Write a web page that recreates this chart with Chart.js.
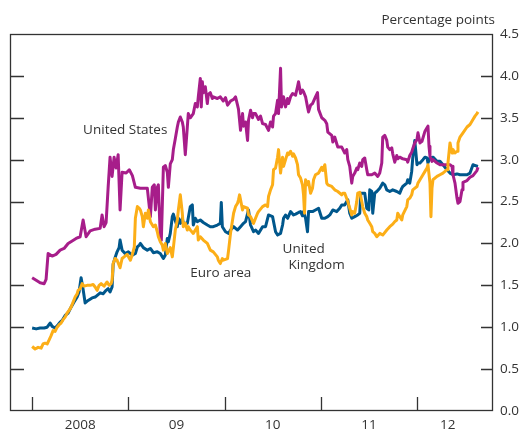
<!DOCTYPE html>
<html>
<head>
<meta charset="utf-8">
<script src="https://cdn.jsdelivr.net/npm/chart.js@4.4.1/dist/chart.umd.min.js"></script>
<style>
  body { margin: 0; background: #fff; }
</style>
</head>
<body>
<canvas id="spreads" width="529" height="430"></canvas>
<script>
// series: [decimal year, percentage points]
const unitedStates = [
  [2008.000, 1.59], [2008.042, 1.56], [2008.083, 1.53], [2008.125, 1.52], [2008.145, 1.57], [2008.166, 1.88],
  [2008.208, 1.85], [2008.249, 1.87], [2008.291, 1.92], [2008.332, 1.94], [2008.374, 2.00], [2008.416, 2.03],
  [2008.457, 2.06], [2008.499, 2.08], [2008.530, 2.28], [2008.561, 2.08], [2008.603, 2.15], [2008.655, 2.17],
  [2008.707, 2.18], [2008.727, 2.34], [2008.748, 2.20], [2008.769, 2.25], [2008.790, 2.67], [2008.810, 3.03],
  [2008.831, 2.80], [2008.852, 3.03], [2008.873, 2.90], [2008.894, 3.06], [2008.914, 2.40], [2008.935, 2.85],
  [2008.977, 2.84],
  [2009.010, 2.88], [2009.042, 2.81], [2009.073, 2.67], [2009.125, 2.66], [2009.197, 2.66], [2009.229, 2.32],
  [2009.249, 2.67], [2009.270, 2.70], [2009.281, 2.40], [2009.301, 2.67], [2009.312, 2.70], [2009.332, 2.08],
  [2009.343, 2.04], [2009.364, 2.91], [2009.384, 2.93], [2009.405, 2.85], [2009.416, 2.67], [2009.436, 2.95],
  [2009.457, 3.00], [2009.468, 3.12], [2009.488, 3.25], [2009.509, 3.39], [2009.520, 3.45], [2009.540, 3.51],
  [2009.561, 3.45], [2009.571, 3.39], [2009.592, 3.06], [2009.613, 3.39], [2009.623, 3.55], [2009.644, 3.50],
  [2009.675, 3.55], [2009.696, 3.67], [2009.717, 3.63], [2009.727, 3.75], [2009.748, 3.97], [2009.758, 3.63],
  [2009.769, 3.93], [2009.779, 3.80], [2009.800, 3.87], [2009.821, 3.67], [2009.831, 3.78], [2009.852, 3.80],
  [2009.873, 3.73], [2009.883, 3.75], [2009.925, 3.73], [2009.956, 3.75], [2009.987, 3.70],
  [2010.010, 3.74], [2010.031, 3.65], [2010.062, 3.70], [2010.094, 3.72], [2010.114, 3.75], [2010.135, 3.65],
  [2010.145, 3.60], [2010.166, 3.35], [2010.187, 3.55], [2010.197, 3.40], [2010.218, 3.45], [2010.239, 3.23],
  [2010.249, 3.47], [2010.270, 3.59], [2010.291, 3.50], [2010.301, 3.55], [2010.322, 3.55], [2010.353, 3.48],
  [2010.374, 3.52], [2010.395, 3.43], [2010.426, 3.42], [2010.457, 3.35], [2010.478, 3.45], [2010.499, 3.39],
  [2010.509, 3.52], [2010.530, 3.55], [2010.551, 3.71], [2010.561, 3.55], [2010.582, 4.09], [2010.592, 3.63],
  [2010.613, 3.75], [2010.634, 3.63], [2010.655, 3.73], [2010.665, 3.67], [2010.686, 3.75], [2010.707, 3.79],
  [2010.738, 3.77], [2010.758, 3.87], [2010.769, 3.93], [2010.790, 3.79], [2010.810, 3.83], [2010.821, 3.81],
  [2010.842, 3.75], [2010.862, 3.63], [2010.873, 3.57], [2010.894, 3.65], [2010.914, 3.67], [2010.945, 3.75],
  [2010.966, 3.80], [2010.977, 3.60],
  [2011.010, 3.50], [2011.042, 3.47], [2011.062, 3.43], [2011.073, 3.33], [2011.114, 3.29], [2011.125, 3.21],
  [2011.145, 3.27], [2011.166, 3.19], [2011.177, 3.15], [2011.218, 3.15], [2011.249, 3.08], [2011.270, 3.12],
  [2011.281, 3.00], [2011.301, 2.92], [2011.322, 2.72], [2011.332, 2.80], [2011.353, 2.84], [2011.374, 2.90],
  [2011.384, 2.88], [2011.405, 2.96], [2011.426, 2.92], [2011.436, 3.00], [2011.457, 3.02], [2011.478, 2.88],
  [2011.488, 2.82], [2011.530, 2.82], [2011.561, 2.84], [2011.592, 2.80], [2011.613, 2.84], [2011.634, 2.96],
  [2011.644, 3.27], [2011.665, 3.29], [2011.686, 3.23], [2011.696, 3.15], [2011.717, 3.12], [2011.738, 3.14],
  [2011.748, 3.07], [2011.769, 2.97], [2011.790, 3.05], [2011.800, 3.01], [2011.821, 3.03], [2011.852, 3.01],
  [2011.894, 3.00], [2011.904, 2.97], [2011.925, 3.05], [2011.945, 3.09], [2011.956, 3.13], [2011.977, 3.20],
  [2012.000, 3.24], [2012.010, 3.32], [2012.031, 3.20], [2012.052, 3.22], [2012.083, 3.34], [2012.104, 3.38],
  [2012.114, 3.40], [2012.125, 3.16], [2012.135, 3.04], [2012.156, 2.98], [2012.166, 3.00], [2012.208, 2.96],
  [2012.239, 2.94], [2012.312, 2.94], [2012.343, 2.94], [2012.364, 2.92], [2012.374, 2.82], [2012.395, 2.72],
  [2012.416, 2.54], [2012.426, 2.48], [2012.447, 2.50], [2012.468, 2.64], [2012.478, 2.73], [2012.520, 2.75],
  [2012.551, 2.79], [2012.582, 2.81], [2012.623, 2.87], [2012.634, 2.91]
];

const unitedKingdom = [
  [2008.000, 0.99], [2008.042, 0.98], [2008.083, 0.99], [2008.125, 0.99], [2008.156, 1.00], [2008.187, 1.05],
  [2008.208, 1.01], [2008.239, 0.99], [2008.270, 1.03], [2008.291, 1.06], [2008.312, 1.08], [2008.343, 1.14],
  [2008.374, 1.17], [2008.405, 1.24], [2008.436, 1.30], [2008.468, 1.36], [2008.488, 1.42], [2008.509, 1.59],
  [2008.530, 1.45], [2008.551, 1.29], [2008.582, 1.32], [2008.623, 1.35], [2008.655, 1.36], [2008.686, 1.39],
  [2008.707, 1.41], [2008.738, 1.40], [2008.769, 1.44], [2008.790, 1.46], [2008.810, 1.42], [2008.831, 1.48],
  [2008.842, 1.75], [2008.862, 1.83], [2008.883, 1.90], [2008.904, 1.95], [2008.914, 2.04], [2008.935, 1.92],
  [2008.966, 1.88],
  [2009.000, 1.90], [2009.042, 1.86], [2009.073, 1.88], [2009.094, 1.96], [2009.114, 1.98], [2009.125, 2.00],
  [2009.156, 1.95], [2009.197, 1.92], [2009.229, 1.94], [2009.260, 1.89], [2009.301, 1.90], [2009.332, 1.88],
  [2009.364, 1.82], [2009.384, 1.86], [2009.405, 2.06], [2009.416, 2.02], [2009.436, 2.12], [2009.457, 2.32],
  [2009.468, 2.35], [2009.488, 2.27], [2009.509, 2.20], [2009.520, 2.30], [2009.540, 2.24], [2009.561, 2.30],
  [2009.571, 2.24], [2009.613, 2.24], [2009.644, 2.44], [2009.665, 2.46], [2009.675, 2.22], [2009.696, 2.30],
  [2009.717, 2.26], [2009.748, 2.28], [2009.779, 2.25], [2009.821, 2.22], [2009.852, 2.20], [2009.883, 2.20],
  [2009.925, 2.22], [2009.956, 2.24], [2009.966, 2.49], [2009.977, 2.20],
  [2010.010, 2.14], [2010.042, 2.12], [2010.062, 2.16], [2010.094, 2.20], [2010.135, 2.16], [2010.166, 2.20],
  [2010.197, 2.24], [2010.218, 2.26], [2010.249, 2.40], [2010.270, 2.22], [2010.301, 2.14], [2010.322, 2.16],
  [2010.353, 2.12], [2010.395, 2.20], [2010.426, 2.20], [2010.457, 2.34], [2010.499, 2.32], [2010.530, 2.14],
  [2010.551, 2.10], [2010.582, 2.12], [2010.603, 2.22], [2010.613, 2.30], [2010.634, 2.34], [2010.655, 2.30],
  [2010.686, 2.38], [2010.717, 2.34], [2010.738, 2.35], [2010.769, 2.37], [2010.790, 2.38], [2010.810, 2.33],
  [2010.821, 2.38], [2010.842, 2.30], [2010.862, 2.14], [2010.873, 2.38], [2010.914, 2.38], [2010.945, 2.40],
  [2010.977, 2.42],
  [2011.010, 2.30], [2011.042, 2.30], [2011.073, 2.32], [2011.094, 2.34], [2011.125, 2.40], [2011.166, 2.38],
  [2011.197, 2.42], [2011.218, 2.46], [2011.249, 2.46], [2011.281, 2.52], [2011.301, 2.36], [2011.322, 2.30],
  [2011.353, 2.32], [2011.384, 2.34], [2011.405, 2.36], [2011.416, 2.60], [2011.457, 2.60], [2011.478, 2.42],
  [2011.499, 2.40], [2011.509, 2.64], [2011.530, 2.62], [2011.540, 2.36], [2011.561, 2.60], [2011.582, 2.62],
  [2011.613, 2.66], [2011.644, 2.72], [2011.665, 2.70], [2011.686, 2.64], [2011.717, 2.62], [2011.748, 2.64],
  [2011.790, 2.62], [2011.821, 2.60], [2011.842, 2.66], [2011.852, 2.68], [2011.894, 2.72], [2011.904, 2.76],
  [2011.925, 2.72], [2011.945, 2.86], [2011.956, 3.02], [2011.977, 3.23],
  [2012.000, 2.94], [2012.010, 2.96], [2012.031, 2.96], [2012.062, 3.00], [2012.083, 3.03], [2012.104, 3.02],
  [2012.114, 2.96], [2012.135, 3.02], [2012.166, 3.03], [2012.208, 2.98], [2012.239, 2.98], [2012.270, 2.94],
  [2012.312, 2.88], [2012.343, 2.84], [2012.374, 2.82], [2012.416, 2.83], [2012.447, 2.82], [2012.478, 2.82],
  [2012.520, 2.82], [2012.551, 2.84], [2012.582, 2.94], [2012.603, 2.93], [2012.634, 2.92]
];

const euroArea = [
  [2008.000, 0.77], [2008.031, 0.74], [2008.062, 0.76], [2008.094, 0.75], [2008.114, 0.80], [2008.135, 0.81],
  [2008.156, 0.80], [2008.177, 0.85], [2008.197, 0.90], [2008.218, 0.96], [2008.239, 0.95], [2008.260, 1.00],
  [2008.281, 1.03], [2008.301, 1.05], [2008.322, 1.09], [2008.343, 1.12], [2008.364, 1.17], [2008.384, 1.20],
  [2008.405, 1.24], [2008.426, 1.30], [2008.447, 1.36], [2008.468, 1.40], [2008.478, 1.44], [2008.499, 1.46],
  [2008.520, 1.52], [2008.540, 1.49], [2008.571, 1.50], [2008.603, 1.50], [2008.634, 1.51], [2008.655, 1.48],
  [2008.675, 1.44], [2008.696, 1.50], [2008.717, 1.52], [2008.748, 1.49], [2008.779, 1.54], [2008.800, 1.50],
  [2008.821, 1.52], [2008.831, 1.56], [2008.842, 1.76], [2008.862, 1.82], [2008.883, 1.80], [2008.914, 1.71],
  [2008.935, 1.82], [2008.956, 1.84], [2008.987, 1.87],
  [2009.021, 1.80], [2009.042, 1.87], [2009.062, 1.96], [2009.073, 2.30], [2009.094, 2.44], [2009.114, 2.42],
  [2009.125, 2.40], [2009.145, 2.32], [2009.156, 2.20], [2009.177, 2.36], [2009.197, 2.30], [2009.208, 2.40],
  [2009.229, 2.26], [2009.260, 2.20], [2009.281, 2.22], [2009.301, 2.14], [2009.312, 2.08], [2009.332, 2.02],
  [2009.353, 1.98], [2009.364, 1.92], [2009.384, 2.00], [2009.405, 1.88], [2009.436, 1.95], [2009.457, 1.84],
  [2009.468, 1.95], [2009.488, 2.16], [2009.509, 2.28], [2009.520, 2.40], [2009.540, 2.58], [2009.561, 2.36],
  [2009.571, 2.20], [2009.592, 2.24], [2009.613, 2.16], [2009.623, 2.20], [2009.644, 2.16], [2009.675, 2.12],
  [2009.717, 2.20], [2009.727, 2.04], [2009.748, 2.08], [2009.779, 2.04], [2009.821, 2.00], [2009.852, 1.92],
  [2009.883, 1.90], [2009.925, 1.84], [2009.935, 1.80], [2009.956, 1.76], [2009.977, 1.82], [2009.987, 1.80],
  [2010.031, 1.82], [2010.042, 1.92], [2010.062, 2.12], [2010.083, 2.28], [2010.094, 2.36], [2010.114, 2.44],
  [2010.135, 2.48], [2010.145, 2.52], [2010.156, 2.58], [2010.187, 2.40], [2010.197, 2.44], [2010.239, 2.42],
  [2010.249, 2.34], [2010.270, 2.32], [2010.301, 2.24], [2010.322, 2.30], [2010.343, 2.36], [2010.353, 2.38],
  [2010.395, 2.44], [2010.426, 2.46], [2010.447, 2.44], [2010.457, 2.56], [2010.478, 2.64], [2010.499, 2.70],
  [2010.509, 2.88], [2010.530, 2.90], [2010.551, 3.03], [2010.561, 3.12], [2010.582, 2.84], [2010.603, 3.03],
  [2010.613, 2.92], [2010.634, 3.00], [2010.655, 3.08], [2010.665, 3.06], [2010.686, 3.10], [2010.707, 3.04],
  [2010.717, 3.07], [2010.738, 3.02], [2010.758, 2.94], [2010.769, 2.82], [2010.790, 2.78], [2010.810, 2.70],
  [2010.821, 2.58], [2010.831, 2.36], [2010.842, 2.76], [2010.862, 2.70], [2010.873, 2.74], [2010.894, 2.60],
  [2010.914, 2.66], [2010.925, 2.76], [2010.945, 2.82], [2010.977, 2.84],
  [2011.010, 2.91], [2011.021, 2.87], [2011.042, 2.94], [2011.062, 2.72], [2011.073, 2.70], [2011.114, 2.68],
  [2011.145, 2.64], [2011.177, 2.62], [2011.218, 2.58], [2011.229, 2.60], [2011.249, 2.60], [2011.281, 2.50],
  [2011.301, 2.42], [2011.322, 2.34], [2011.332, 2.38], [2011.353, 2.36], [2011.374, 2.50], [2011.384, 2.60],
  [2011.405, 2.61], [2011.426, 2.50], [2011.436, 2.44], [2011.457, 2.36], [2011.478, 2.32], [2011.488, 2.28],
  [2011.509, 2.24], [2011.530, 2.20], [2011.540, 2.14], [2011.561, 2.12], [2011.582, 2.08], [2011.613, 2.12],
  [2011.644, 2.10], [2011.686, 2.16], [2011.717, 2.20], [2011.748, 2.23], [2011.769, 2.26], [2011.790, 2.28],
  [2011.800, 2.36], [2011.821, 2.32], [2011.842, 2.28], [2011.852, 2.34], [2011.894, 2.44], [2011.904, 2.52],
  [2011.925, 2.54], [2011.945, 2.58], [2011.956, 2.64],
  [2012.000, 2.68], [2012.010, 2.72], [2012.031, 2.76], [2012.062, 2.82], [2012.083, 2.86], [2012.104, 2.90],
  [2012.114, 2.94], [2012.135, 2.72], [2012.145, 2.32], [2012.156, 2.66], [2012.166, 2.76], [2012.208, 2.80],
  [2012.239, 2.82], [2012.270, 2.84], [2012.312, 2.88], [2012.322, 2.96], [2012.343, 3.20], [2012.364, 3.08],
  [2012.374, 3.12], [2012.395, 3.08], [2012.416, 3.10], [2012.426, 3.20], [2012.447, 3.27], [2012.478, 3.32],
  [2012.520, 3.39], [2012.551, 3.42], [2012.582, 3.48], [2012.603, 3.52], [2012.623, 3.55], [2012.634, 3.57]
];

const yearStarts = [2008, 2009, 2010, 2011, 2012];
const xLabelPos = [2008.5, 2009.5, 2010.5, 2011.5, 2012.32];
const xLabels = ['2008', '09', '10', '11', '12'];
const yTicks = [0, 0.5, 1, 1.5, 2, 2.5, 3, 3.5, 4, 4.5];
const seriesLabels = [
  { text: 'United States', x: 2008.53, y: 3.306 },
  { text: 'Euro area', x: 2009.644, y: 1.60 },
  { text: 'United', x: 2010.603, y: 1.886 },
  { text: 'Kingdom', x: 2010.665, y: 1.695 }
];

const textColor = '#333333';
const fontFamily = "'Open Sans', sans-serif";

Chart.defaults.font.family = fontFamily;
Chart.defaults.font.size = 13.5;
Chart.defaults.color = textColor;

const toPoints = s => s.map(p => ({ x: p[0], y: p[1] }));

// box, inward ticks and text
const framePlugin = {
  id: 'framePlugin',
  beforeDatasetsDraw(chart) {
    const { ctx, chartArea: a, scales } = chart;
    ctx.save();
    ctx.strokeStyle = textColor;
    ctx.lineWidth = 1.3;
    ctx.beginPath();
    yTicks.forEach(v => {
      if (v <= 0 || v >= 4.5) return;
      const py = Math.round(scales.y.getPixelForValue(v)) + 0.5;
      ctx.moveTo(a.left, py);
      ctx.lineTo(a.left + 14, py);
      ctx.moveTo(a.right - 12, py);
      ctx.lineTo(a.right, py);
    });
    yearStarts.forEach(v => {
      const px = Math.round(scales.x.getPixelForValue(v)) + 0.5;
      ctx.moveTo(px, a.bottom);
      ctx.lineTo(px, a.bottom - 14);
    });
    ctx.stroke();
    ctx.restore();
  },
  afterDraw(chart) {
    const { ctx, chartArea: a, scales } = chart;
    ctx.save();
    ctx.strokeStyle = textColor;
    ctx.lineWidth = 1.3;
    ctx.strokeRect(a.left + 0.5, a.top + 0.5, a.right - a.left - 1, a.bottom - a.top - 1);

    ctx.fillStyle = textColor;
    ctx.font = '13.5px ' + fontFamily;
    ctx.textBaseline = 'alphabetic';
    ctx.textAlign = 'right';
    ctx.fillText('Percentage points', a.right + 2, 24);

    ctx.textAlign = 'left';
    seriesLabels.forEach(l => {
      ctx.fillText(l.text, scales.x.getPixelForValue(l.x), scales.y.getPixelForValue(l.y));
    });
    ctx.restore();
  }
};

const ctx = document.getElementById('spreads').getContext('2d');
new Chart(ctx, {
  type: 'line',
  data: {
    datasets: [
      { label: 'Euro area', data: toPoints(euroArea), borderColor: 'rgb(252, 174, 23)' },
      { label: 'United States', data: toPoints(unitedStates), borderColor: 'rgb(167, 29, 138)' },
      { label: 'United Kingdom', data: toPoints(unitedKingdom), borderColor: 'rgb(0, 87, 140)' }
    ]
  },
  options: {
    responsive: false,
    animation: false,
    parsing: false,
    layout: { padding: { left: 10, top: 34, right: 0, bottom: 0 } },
    elements: {
      line: { borderWidth: 3, tension: 0, borderJoinStyle: 'round' },
      point: { radius: 0, hoverRadius: 0 }
    },
    plugins: {
      legend: { display: false },
      tooltip: { enabled: false },
      title: { display: false }
    },
    scales: {
      x: {
        type: 'linear',
        min: 2007.77,
        max: 2012.79,
        grid: { display: false, drawTicks: false },
        border: { display: false },
        ticks: {
          autoSkip: false,
          maxRotation: 0,
          padding: 6,
          color: textColor,
          callback: (v, i) => xLabels[i]
        },
        afterBuildTicks: s => { s.ticks = xLabelPos.map(v => ({ value: v })); },
        afterFit: s => { s.height = 19; }
      },
      y: {
        position: 'right',
        min: 0,
        max: 4.5,
        grid: { display: false, drawTicks: false },
        border: { display: false },
        ticks: {
          stepSize: 0.5,
          padding: 7,
          color: textColor,
          callback: v => v.toFixed(1)
        },
        afterFit: s => { s.width = 36; }
      }
    }
  },
  plugins: [framePlugin]
});
</script>
</body>
</html>
